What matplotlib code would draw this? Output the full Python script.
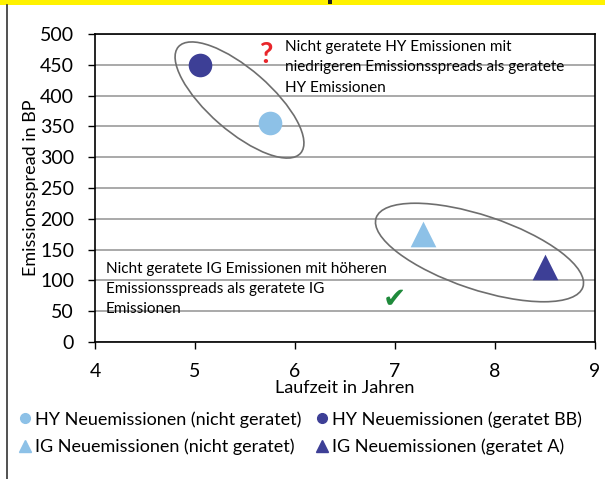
import matplotlib
matplotlib.use("Agg")
import matplotlib.pyplot as plt
from matplotlib.patches import Ellipse, Rectangle
from matplotlib.transforms import Affine2D
from matplotlib.lines import Line2D

plt.rcParams['font.family'] = ['Lato', 'DejaVu Sans']

# Laufzeit (Jahre) und Emissionsspread (BP) je Gruppe
hy_nicht_x = [5.75]
hy_nicht_y = [355]
hy_bb_x = [5.05]
hy_bb_y = [450]
ig_nicht_x = [7.28]
ig_nicht_y = [176]
ig_a_x = [8.5]
ig_a_y = [122]

x_ticks = [4, 5, 6, 7, 8, 9]
y_ticks = [0, 50, 100, 150, 200, 250, 300, 350, 400, 450, 500]

labels = ["HY Neuemissionen (nicht geratet)",
          "HY Neuemissionen (geratet BB)",
          "IG Neuemissionen (nicht geratet)",
          "IG Neuemissionen (geratet A)"]

light = "#8DC1E7"
dark = "#3D3F96"
grid_c = "#A3A3A3"

W, H, DPI = 605, 479, 100
fig = plt.figure(figsize=(W / DPI, H / DPI), dpi=DPI)

# yellow header band and left frame line
fig.add_artist(Rectangle((0, 1 - 5 / H), 1, 5 / H, transform=fig.transFigure,
                         color="#FFF200", lw=0, zorder=0))
fig.add_artist(Rectangle((328 / W, 1 - 4 / H), 4 / W, 4 / H, transform=fig.transFigure,
                         color="#222222", lw=0, zorder=1))
fig.add_artist(Line2D([6.5 / W, 6.5 / W], [0, 1 - 5 / H], transform=fig.transFigure,
                      color="#333333", lw=1.2))

ax_l, ax_r, ax_b, ax_t = 95, 595, 342, 34
ax = fig.add_axes([ax_l / W, 1 - ax_b / H, (ax_r - ax_l) / W, (ax_b - ax_t) / H])

ax.set_xlim(4, 9)
ax.set_ylim(0, 500)
ax.set_xticks(x_ticks)
ax.set_yticks(y_ticks)
ax.yaxis.grid(True, color=grid_c, lw=1.3)
ax.set_axisbelow(True)
for s in ax.spines.values():
    s.set_color("black")
    s.set_linewidth(1.2)
ax.tick_params(axis="x", direction="out", length=5, width=1, pad=10, labelsize=14)
ax.tick_params(axis="y", direction="out", length=5, width=1, pad=10, labelsize=14)
ax.set_xlabel("Laufzeit in Jahren", fontsize=13, labelpad=0)
ax.set_ylabel("Emissionsspread in BP", fontsize=13, labelpad=1)

ax.scatter(hy_nicht_x, hy_nicht_y, s=17 ** 2, marker="o", color=light, zorder=3, lw=0)
ax.scatter(hy_bb_x, hy_bb_y, s=17 ** 2, marker="o", color=dark, zorder=3, lw=0)
ax.scatter(ig_nicht_x, ig_nicht_y, s=18.5 ** 2, marker="^", color=light, zorder=3, lw=0)
ax.scatter(ig_a_x, ig_a_y, s=18.5 ** 2, marker="^", color=dark, zorder=3, lw=0)

# ellipses drawn in axes pixel units so they keep their shape
px = Affine2D().scale(1 / (ax_r - ax_l), 1 / (ax_b - ax_t)) + ax.transAxes
ax.add_patch(Ellipse((144.5, 242), 2 * 81, 2 * 31, angle=-41, transform=px,
                     fill=False, ec="#6E6E6E", lw=1.2, zorder=4, clip_on=False))
ax.add_patch(Ellipse((384.5, 89.5), 2 * 109, 2 * 37, angle=-18.5, transform=px,
                     fill=False, ec="#6E6E6E", lw=1.2, zorder=4, clip_on=False))

ax.text(5.9, 491, "Nicht geratete HY Emissionen mit\nniedrigeren Emissionsspreads als geratete\nHY Emissionen",
        fontsize=11, va="top", ha="left", linespacing=1.62, zorder=5)
ax.text(5.71, 466, "?", fontsize=21, fontweight="bold", color="#E8262B",
        ha="center", va="center", zorder=5)

ax.text(4.11, 130, "Nicht geratete IG Emissionen mit höheren\nEmissionsspreads als geratete IG\nEmissionen",
        fontsize=11, va="top", ha="left", linespacing=1.55, zorder=5)
ax.text(6.99, 69, "✔", family="DejaVu Sans", fontsize=20, color="#1F8A3B",
        ha="center", va="center", zorder=5)

handles = [
    Line2D([], [], ls="none", marker="o", ms=7, color=light),
    Line2D([], [], ls="none", marker="^", ms=9, color=light),
    Line2D([], [], ls="none", marker="o", ms=7, color=dark),
    Line2D([], [], ls="none", marker="^", ms=9, color=dark),
]
fig.legend(handles, [labels[0], labels[2], labels[1], labels[3]], ncol=2,
           loc="upper left", bbox_to_anchor=(20 / W, 1 - 411 / H), frameon=False,
           fontsize=13, handlelength=0.6, handletextpad=0.25, columnspacing=0.8,
           labelspacing=0.62, borderaxespad=0, borderpad=0)

fig.savefig("out.png", dpi=DPI)
